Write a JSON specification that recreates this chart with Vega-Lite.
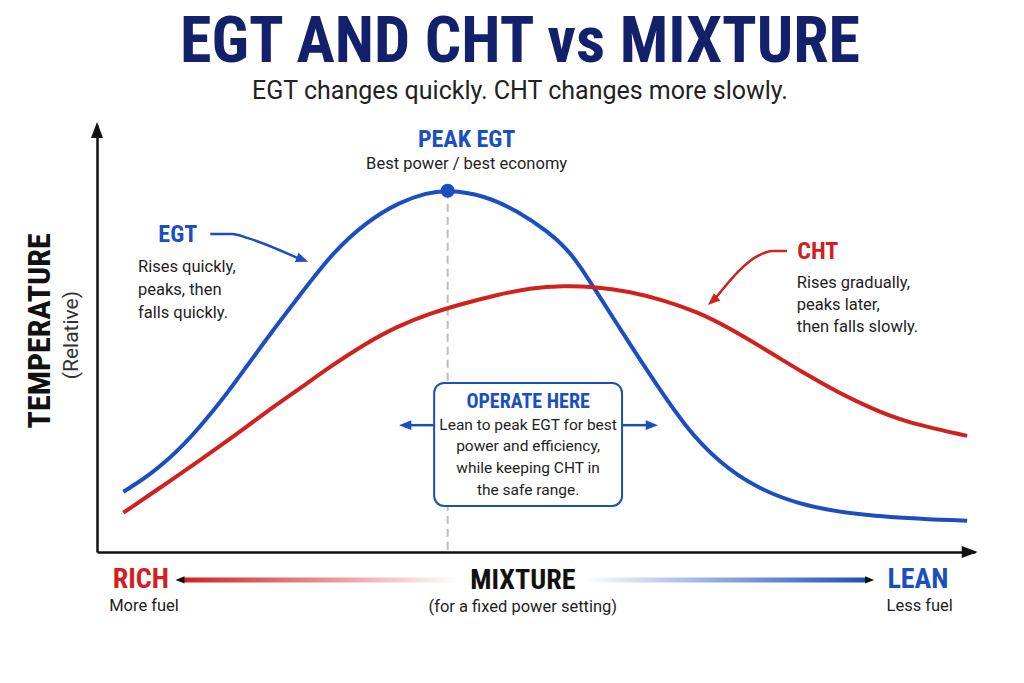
{
  "$schema": "https://vega.github.io/schema/vega-lite/v6.json",
  "width": 878,
  "height": 427,
  "autosize": "none",
  "padding": {"left": 97, "top": 125, "right": 49, "bottom": 131},
  "background": "white",
  "title": {
    "text": "EGT AND CHT vs MIXTURE",
    "subtitle": "EGT changes quickly. CHT changes more slowly.",
    "anchor": "middle",
    "frame": "group",
    "dx": -16,
    "offset": 18,
    "font": "Roboto Condensed, Roboto, sans-serif",
    "fontSize": 64,
    "fontWeight": "bold",
    "color": "#13206b",
    "subtitleFont": "Roboto, sans-serif",
    "subtitleFontSize": 25,
    "subtitleColor": "#222222",
    "subtitlePadding": 4
  },
  "config": {"view": {"stroke": null}},
  "datasets": {
    "curves": [
      {"series": "EGT", "mixture": 3.0, "temp": 14.1},
      {"series": "EGT", "mixture": 6.04, "temp": 18.0},
      {"series": "EGT", "mixture": 9.83, "temp": 24.7},
      {"series": "EGT", "mixture": 13.63, "temp": 34.0},
      {"series": "EGT", "mixture": 15.52, "temp": 39.1},
      {"series": "EGT", "mixture": 19.33, "temp": 50.0},
      {"series": "EGT", "mixture": 23.12, "temp": 60.2},
      {"series": "EGT", "mixture": 26.91, "temp": 70.3},
      {"series": "EGT", "mixture": 30.72, "temp": 77.4},
      {"series": "EGT", "mixture": 34.51, "temp": 82.0},
      {"series": "EGT", "mixture": 37.55, "temp": 84.1},
      {"series": "EGT", "mixture": 39.94, "temp": 84.8},
      {"series": "EGT", "mixture": 44.0, "temp": 83.6},
      {"series": "EGT", "mixture": 47.8, "temp": 80.0},
      {"series": "EGT", "mixture": 51.6, "temp": 74.7},
      {"series": "EGT", "mixture": 53.5, "temp": 71.0},
      {"series": "EGT", "mixture": 55.01, "temp": 67.0},
      {"series": "EGT", "mixture": 56.53, "temp": 62.1},
      {"series": "EGT", "mixture": 59.6, "temp": 52.2},
      {"series": "EGT", "mixture": 62.61, "temp": 42.6},
      {"series": "EGT", "mixture": 67.2, "temp": 28.6},
      {"series": "EGT", "mixture": 71.0, "temp": 20.8},
      {"series": "EGT", "mixture": 74.8, "temp": 15.3},
      {"series": "EGT", "mixture": 80.5, "temp": 10.6},
      {"series": "EGT", "mixture": 88.1, "temp": 8.3},
      {"series": "EGT", "mixture": 99.1, "temp": 7.3},
      {"series": "CHT", "mixture": 3.0, "temp": 9.2},
      {"series": "CHT", "mixture": 7.94, "temp": 16.1},
      {"series": "CHT", "mixture": 11.73, "temp": 21.5},
      {"series": "CHT", "mixture": 15.52, "temp": 27.0},
      {"series": "CHT", "mixture": 19.33, "temp": 32.9},
      {"series": "CHT", "mixture": 23.12, "temp": 38.3},
      {"series": "CHT", "mixture": 26.54, "temp": 43.4},
      {"series": "CHT", "mixture": 30.33, "temp": 48.5},
      {"series": "CHT", "mixture": 34.13, "temp": 52.8},
      {"series": "CHT", "mixture": 37.93, "temp": 55.9},
      {"series": "CHT", "mixture": 41.72, "temp": 58.2},
      {"series": "CHT", "mixture": 45.52, "temp": 60.2},
      {"series": "CHT", "mixture": 49.32, "temp": 61.8},
      {"series": "CHT", "mixture": 53.11, "temp": 62.4},
      {"series": "CHT", "mixture": 56.91, "temp": 62.1},
      {"series": "CHT", "mixture": 60.71, "temp": 61.0},
      {"series": "CHT", "mixture": 64.5, "temp": 59.0},
      {"series": "CHT", "mixture": 68.3, "temp": 56.3},
      {"series": "CHT", "mixture": 72.1, "temp": 52.4},
      {"series": "CHT", "mixture": 76.7, "temp": 46.7},
      {"series": "CHT", "mixture": 80.5, "temp": 41.9},
      {"series": "CHT", "mixture": 84.3, "temp": 37.5},
      {"series": "CHT", "mixture": 88.1, "temp": 33.7},
      {"series": "CHT", "mixture": 91.9, "temp": 30.5},
      {"series": "CHT", "mixture": 99.1, "temp": 27.2}
    ]
  },
  "layer": [
    {
      "data": {"values": [{"mixture": 39.94, "temp": 84.6, "temp2": 0}]},
      "mark": {"type": "rule", "color": "#bdbdbd", "strokeWidth": 2, "strokeDash": [8, 5]},
      "encoding": {
        "x": {"field": "mixture", "type": "quantitative", "scale": {"domain": [0, 100], "nice": false},
          "axis": {"domain": true, "domainColor": "#111111", "domainWidth": 2.5, "labels": false, "ticks": false, "grid": false, "title": null}},
        "y": {"field": "temp", "type": "quantitative", "scale": {"domain": [0, 100], "nice": false},
          "axis": {"domain": true, "domainColor": "#111111", "domainWidth": 2.5, "labels": false, "ticks": false, "grid": false, "title": null}},
        "y2": {"field": "temp2"}
      }
    },
    {
      "data": {"values": [{"x1": 38.4, "x2": 59.8, "y1": 39.6, "y2": 10.8}]},
      "mark": {"type": "rect", "fill": "white", "stroke": "#1b4fbf", "strokeWidth": 2, "cornerRadius": 10},
      "encoding": {
        "x": {"field": "x1", "type": "quantitative"},
        "x2": {"field": "x2"},
        "y": {"field": "y1", "type": "quantitative"},
        "y2": {"field": "y2"}
      }
    },
    {
      "data": {"values": [{"x1": 9.9, "x2": 41.3, "y1": -5.95, "y2": -7.15}]},
      "mark": {"type": "rect", "color": {"gradient": "linear", "stops": [{"offset": 0, "color": "#d0211f"}, {"offset": 1, "color": "#ffffff"}]}},
      "encoding": {
        "x": {"field": "x1", "type": "quantitative"},
        "x2": {"field": "x2"},
        "y": {"field": "y1", "type": "quantitative"},
        "y2": {"field": "y2"}
      }
    },
    {
      "data": {"values": [{"x1": 55.5, "x2": 87.6, "y1": -5.95, "y2": -7.15}]},
      "mark": {"type": "rect", "color": {"gradient": "linear", "stops": [{"offset": 0, "color": "#ffffff"}, {"offset": 1, "color": "#1b4fbf"}]}},
      "encoding": {
        "x": {"field": "x1", "type": "quantitative"},
        "x2": {"field": "x2"},
        "y": {"field": "y1", "type": "quantitative"},
        "y2": {"field": "y2"}
      }
    },
    {
      "data": {"name": "curves"},
      "mark": {"type": "line", "strokeWidth": 4, "interpolate": "basis"},
      "encoding": {
        "x": {"field": "mixture", "type": "quantitative"},
        "y": {"field": "temp", "type": "quantitative"},
        "color": {"field": "series", "type": "nominal",
          "scale": {"domain": ["EGT", "CHT", "axis"], "range": ["#1b4fbf", "#d0211f", "#111111"]}, "legend": null}
      }
    },
    {
      "data": {"values": [
        {"id": "egt", "series": "EGT", "mixture": 12.9, "temp": 74.5},
        {"id": "egt", "series": "EGT", "mixture": 15.4, "temp": 74.5},
        {"id": "egt", "series": "EGT", "mixture": 17.2, "temp": 73.5},
        {"id": "egt", "series": "EGT", "mixture": 23.0, "temp": 68.7},
        {"id": "cht", "series": "CHT", "mixture": 78.6, "temp": 70.5},
        {"id": "cht", "series": "CHT", "mixture": 76.9, "temp": 70.5},
        {"id": "cht", "series": "CHT", "mixture": 75.5, "temp": 69.6},
        {"id": "cht", "series": "CHT", "mixture": 70.5, "temp": 59.6},
        {"id": "boxl", "series": "EGT", "mixture": 38.4, "temp": 29.7},
        {"id": "boxl", "series": "EGT", "mixture": 35.4, "temp": 29.7},
        {"id": "boxr", "series": "EGT", "mixture": 59.8, "temp": 29.7},
        {"id": "boxr", "series": "EGT", "mixture": 63.0, "temp": 29.7}
      ]},
      "mark": {"type": "line", "strokeWidth": 2.5, "interpolate": "monotone"},
      "encoding": {
        "x": {"field": "mixture", "type": "quantitative"},
        "y": {"field": "temp", "type": "quantitative"},
        "detail": {"field": "id"},
        "color": {"field": "series", "type": "nominal"}
      }
    },
    {
      "data": {"values": [
        {"series": "EGT", "mixture": 23.4, "temp": 68.5, "dir": 21},
        {"series": "CHT", "mixture": 70.1, "temp": 58.8, "dir": 139},
        {"series": "EGT", "mixture": 35.1, "temp": 29.7, "dir": 180},
        {"series": "EGT", "mixture": 63.2, "temp": 29.7, "dir": 0}
      ]},
      "mark": {"type": "point", "shape": "M1,0L-1,-0.8L-1,0.8Z", "filled": true, "opacity": 1, "size": 150},
      "encoding": {
        "x": {"field": "mixture", "type": "quantitative"},
        "y": {"field": "temp", "type": "quantitative"},
        "angle": {"field": "dir", "type": "quantitative", "scale": null},
        "color": {"field": "series", "type": "nominal"}
      }
    },
    {
      "data": {"values": [
        {"series": "axis", "mixture": 0, "temp": 98.8, "dir": -90},
        {"series": "axis", "mixture": 99.4, "temp": 0, "dir": 0}
      ]},
      "mark": {"type": "point", "shape": "M1,0L-1,-0.75L-1,0.75Z", "filled": true, "opacity": 1, "size": 256},
      "encoding": {
        "x": {"field": "mixture", "type": "quantitative"},
        "y": {"field": "temp", "type": "quantitative"},
        "angle": {"field": "dir", "type": "quantitative", "scale": null},
        "color": {"field": "series", "type": "nominal"}
      }
    },
    {
      "data": {"values": [
        {"series": "axis", "mixture": 9.45, "temp": -6.55, "dir": 180},
        {"series": "axis", "mixture": 88.0, "temp": -6.55, "dir": 0}
      ]},
      "mark": {"type": "point", "shape": "M1,0L-1,-0.8L-1,0.8Z", "filled": true, "opacity": 1, "size": 81},
      "encoding": {
        "x": {"field": "mixture", "type": "quantitative"},
        "y": {"field": "temp", "type": "quantitative"},
        "angle": {"field": "dir", "type": "quantitative", "scale": null},
        "color": {"field": "series", "type": "nominal"}
      }
    },
    {
      "data": {"values": [{"series": "EGT", "mixture": 39.94, "temp": 84.6}]},
      "mark": {"type": "point", "filled": true, "opacity": 1, "size": 200},
      "encoding": {
        "x": {"field": "mixture", "type": "quantitative"},
        "y": {"field": "temp", "type": "quantitative"},
        "color": {"field": "series", "type": "nominal"}
      }
    },
    {
      "data": {"values": [
        {"series": "EGT", "label": "PEAK EGT", "mixture": 42.1, "temp": 96.5},
        {"series": "EGT", "label": "EGT", "mixture": 9.2, "temp": 74.2},
        {"series": "CHT", "label": "CHT", "mixture": 82.1, "temp": 70.3}
      ]},
      "mark": {"type": "text", "font": "Roboto Condensed, Roboto, sans-serif", "fontWeight": "bold", "fontSize": 24, "align": "center", "baseline": "middle"},
      "encoding": {
        "x": {"field": "mixture", "type": "quantitative"},
        "y": {"field": "temp", "type": "quantitative"},
        "text": {"field": "label"},
        "color": {"field": "series", "type": "nominal"}
      }
    },
    {
      "data": {"values": [{"series": "EGT", "label": "OPERATE HERE", "mixture": 49.1, "temp": 35.1}]},
      "mark": {"type": "text", "font": "Roboto Condensed, Roboto, sans-serif", "fontWeight": "bold", "fontSize": 20, "align": "center", "baseline": "middle"},
      "encoding": {
        "x": {"field": "mixture", "type": "quantitative"},
        "y": {"field": "temp", "type": "quantitative"},
        "text": {"field": "label"},
        "color": {"field": "series", "type": "nominal"}
      }
    },
    {
      "data": {"values": [
        {"series": "CHT", "label": "RICH", "mixture": 5.0, "temp": -6.6},
        {"series": "axis", "label": "MIXTURE", "mixture": 48.5, "temp": -6.8},
        {"series": "EGT", "label": "LEAN", "mixture": 93.5, "temp": -6.6}
      ]},
      "mark": {"type": "text", "font": "Roboto Condensed, Roboto, sans-serif", "fontWeight": "bold", "fontSize": 28, "align": "center", "baseline": "middle"},
      "encoding": {
        "x": {"field": "mixture", "type": "quantitative"},
        "y": {"field": "temp", "type": "quantitative"},
        "text": {"field": "label"},
        "color": {"field": "series", "type": "nominal"}
      }
    },
    {
      "data": {"values": [
        {"label": "Best power / best economy", "mixture": 42.1, "temp": 90.9},
        {"label": "More fuel", "mixture": 5.35, "temp": -12.6},
        {"label": "(for a fixed power setting)", "mixture": 48.5, "temp": -12.9},
        {"label": "Less fuel", "mixture": 93.7, "temp": -12.6}
      ]},
      "mark": {"type": "text", "font": "Roboto, sans-serif", "fontSize": 16.5, "align": "center", "baseline": "middle", "color": "#1e1e1e"},
      "encoding": {
        "x": {"field": "mixture", "type": "quantitative"},
        "y": {"field": "temp", "type": "quantitative"},
        "text": {"field": "label"}
      }
    },
    {
      "data": {"values": [
        {"label": "Lean to peak EGT for best", "mixture": 49.1, "temp": 29.7},
        {"label": "power and efficiency,", "mixture": 49.1, "temp": 24.8},
        {"label": "while keeping CHT in", "mixture": 49.1, "temp": 19.7},
        {"label": "the safe range.", "mixture": 49.1, "temp": 14.5}
      ]},
      "mark": {"type": "text", "font": "Roboto, sans-serif", "fontSize": 15.5, "align": "center", "baseline": "middle", "color": "#1e1e1e"},
      "encoding": {
        "x": {"field": "mixture", "type": "quantitative"},
        "y": {"field": "temp", "type": "quantitative"},
        "text": {"field": "label"}
      }
    },
    {
      "data": {"values": [
        {"label": "Rises quickly,", "mixture": 4.67, "temp": 66.7},
        {"label": "peaks, then", "mixture": 4.67, "temp": 61.4},
        {"label": "falls quickly.", "mixture": 4.67, "temp": 56.0},
        {"label": "Rises gradually,", "mixture": 79.7, "temp": 63.0},
        {"label": "peaks later,", "mixture": 79.7, "temp": 57.8},
        {"label": "then falls slowly.", "mixture": 79.7, "temp": 52.7}
      ]},
      "mark": {"type": "text", "font": "Roboto, sans-serif", "fontSize": 16.5, "align": "left", "baseline": "middle", "color": "#1e1e1e"},
      "encoding": {
        "x": {"field": "mixture", "type": "quantitative"},
        "y": {"field": "temp", "type": "quantitative"},
        "text": {"field": "label"}
      }
    },
    {
      "data": {"values": [{"label": "TEMPERATURE", "mixture": -6.5, "temp": 51.8}]},
      "mark": {"type": "text", "font": "Roboto Condensed, Roboto, sans-serif", "fontWeight": "bold", "fontSize": 32, "angle": 270, "align": "center", "baseline": "middle", "color": "#111111"},
      "encoding": {
        "x": {"field": "mixture", "type": "quantitative"},
        "y": {"field": "temp", "type": "quantitative"},
        "text": {"field": "label"}
      }
    },
    {
      "data": {"values": [{"label": "(Relative)", "mixture": -2.85, "temp": 50.8}]},
      "mark": {"type": "text", "font": "Roboto, sans-serif", "fontSize": 21, "angle": 270, "align": "center", "baseline": "middle", "color": "#333333"},
      "encoding": {
        "x": {"field": "mixture", "type": "quantitative"},
        "y": {"field": "temp", "type": "quantitative"},
        "text": {"field": "label"}
      }
    }
  ]
}
